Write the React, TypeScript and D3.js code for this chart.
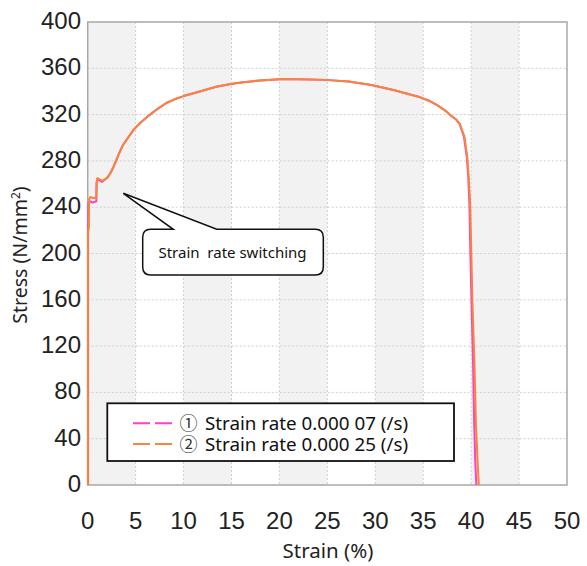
import React from "react";
import * as d3 from "d3";

const xTicks = [0, 5, 10, 15, 20, 25, 30, 35, 40, 45, 50];
const yTicks = [0, 40, 80, 120, 160, 200, 240, 280, 320, 360, 400];
const bandStarts = [0, 10, 20, 30, 40];

// Series 1: strain rate 0.000 07 (/s) (pink)
const strain1 = [0.04, 0.04, 0.06, 0.1, 0.3, 0.5, 0.9, 0.92, 1.0, 1.5, 1.8, 2.1, 2.4, 2.7, 3.0, 3.3, 3.7, 4.2, 4.8, 5.5, 6.5, 7.3, 8.2, 9.0, 10, 11.7, 13.4, 15, 16.2, 18, 20, 22, 24.8, 27.2, 29.6, 32, 34.5, 35.6, 36.5, 37.3, 37.9, 38.4, 38.8, 39.25, 39.55, 39.7, 39.82, 39.92, 40.05, 40.2, 40.32, 40.45, 40.55];
const stress1 = [0, 218, 238, 244, 245, 244, 245, 261, 264, 262, 264, 266, 270, 275, 281, 287, 294, 300, 307, 313, 320, 325, 330, 333, 336, 340, 344, 346.5, 348, 349.5, 350.5, 350.5, 350, 348.5, 345.5, 341, 335.5, 332, 328, 323.5, 319, 316, 312, 301, 283, 266, 243, 200, 154, 105, 53, 16, 0];

// Series 2: strain rate 0.000 25 (/s) (orange)
const strain2 = [0.02, 0.02, 0.12, 0.15, 0.3, 0.5, 0.9, 0.95, 1.0, 1.5, 1.8, 2.1, 2.4, 2.7, 3.0, 3.3, 3.7, 4.2, 4.8, 5.5, 6.5, 7.3, 8.2, 9.0, 10, 11.7, 13.4, 15, 16.2, 18, 20, 22, 24.8, 27.2, 29.6, 32, 34.5, 35.6, 36.5, 37.3, 37.9, 38.4, 38.8, 39.3, 39.6, 39.75, 39.9, 40.02, 40.15, 40.35, 40.5, 40.7, 40.8];
const stress2 = [0, 218, 222, 247, 249, 248, 248, 262, 265, 263, 264, 266, 270, 275, 281, 287, 294, 300, 307, 313, 320, 325, 330, 333, 336, 340, 344, 346.6, 348, 349.5, 350.5, 350.5, 350, 348.5, 345.6, 341, 335.5, 332, 328, 323.5, 319, 316, 312, 301, 283, 266, 243, 200, 154, 105, 53, 16, 0];

const legendLabels = ["Strain rate 0.000 07 (/s)", "Strain rate 0.000 25 (/s)"];
const legendMarks = ["①", "②"];
const seriesColors = ["#ff3fc8", "#f5863a"];
const calloutText = "Strain  rate switching";

export default function App() {
  const W = 587, H = 566;
  const left = 87.7, right = 567, top = 22, bottom = 485;
  const x = d3.scaleLinear().domain([0, 50]).range([left, right]);
  const y = d3.scaleLinear().domain([0, 400]).range([bottom, top]);
  const line = d3.line<[number, number]>().x(d => x(d[0])).y(d => y(d[1]));
  const s1 = strain1.map((v, i) => [v, stress1[i]] as [number, number]);
  const s2 = strain2.map((v, i) => [v, stress2[i]] as [number, number]);
  const tickFont = "'Liberation Sans', Arial, sans-serif";
  const labelFont = "'Noto Sans', 'Open Sans', sans-serif";

  // callout geometry
  const bx0 = 142.7, by0 = 229.3, bx1 = 323.3, by1 = 275, r = 8;
  const tipX = 123.3, tipY = 193.3, baseA = 173.3, baseB = 216.7;
  const calloutPath = `M${bx0 + r},${by0} L${baseA},${by0} L${tipX},${tipY} L${baseB},${by0} L${bx1 - r},${by0} Q${bx1},${by0} ${bx1},${by0 + r} L${bx1},${by1 - r} Q${bx1},${by1} ${bx1 - r},${by1} L${bx0 + r},${by1} Q${bx0},${by1} ${bx0},${by1 - r} L${bx0},${by0 + r} Q${bx0},${by0} ${bx0 + r},${by0} Z`;

  const ly0 = 423.3, lstep = 20.7;

  return (
    <svg width={W} height={H} style={{ position: "absolute", left: 0, top: 0, background: "#fff" }}>
      <rect x={left} y={top} width={right - left} height={bottom - top} fill="#fff" />
      {bandStarts.map(b => (
        <rect key={b} x={x(b)} y={top} width={x(b + 5) - x(b)} height={bottom - top} fill="#f2f2f2" />
      ))}
      {yTicks.slice(1, -1).map(t => (
        <line key={"gy" + t} x1={left} x2={right} y1={y(t)} y2={y(t)} stroke="#cfcfcf" strokeWidth={1} strokeDasharray="2,2" />
      ))}
      {xTicks.slice(1, -1).map(t => (
        <line key={"gx" + t} x1={x(t)} x2={x(t)} y1={top} y2={bottom} stroke="#cfcfcf" strokeWidth={1} strokeDasharray="2,2" />
      ))}
      <rect x={left} y={top} width={right - left} height={bottom - top} fill="none" stroke="#a8a8a8" strokeWidth={1.5} />
      <path d={line(s1) || ""} fill="none" stroke={seriesColors[0]} strokeWidth={2} strokeLinejoin="round" />
      <path d={line(s2) || ""} fill="none" stroke={seriesColors[1]} strokeWidth={2} strokeLinejoin="round" />
      {yTicks.map(t => (
        <text key={"yl" + t} x={81} y={y(t) + 7} textAnchor="end" fontFamily={tickFont} fontSize={24} fill="#222">{t}</text>
      ))}
      {xTicks.map(t => (
        <text key={"xl" + t} x={x(t)} y={528.5} textAnchor="middle" fontFamily={tickFont} fontSize={24} fill="#222">{t}</text>
      ))}
      <text x={328} y={558} textAnchor="middle" fontFamily={labelFont} fontSize={20.5} fill="#222">Strain (%)</text>
      <text transform="translate(27,255) rotate(-90)" textAnchor="middle" fontFamily={labelFont} fontSize={19.5} fill="#222">
        Stress (N/mm<tspan dy={-7} fontSize={12}>2</tspan><tspan dy={7}>)</tspan>
      </text>
      <path d={calloutPath} fill="#fff" stroke="#111" strokeWidth={1.5} />
      <text x={232.5} y={257.5} textAnchor="middle" fontFamily={labelFont} fontSize={15} fill="#111" style={{ whiteSpace: "pre" }}>{calloutText}</text>
      <rect x={107.3} y={403.3} width={346.7} height={57.7} fill="#fff" stroke="#111" strokeWidth={1.8} />
      {legendLabels.map((lab, i) => (
        <line key={"ll" + i} x1={133} x2={174} y1={ly0 + i * lstep} y2={ly0 + i * lstep} stroke={seriesColors[i]} strokeWidth={2} strokeDasharray="17,5" />
      ))}
      <text fontFamily="'Noto Sans CJK JP', 'DejaVu Sans', sans-serif" fontSize={18} fill="#333">
        {legendMarks.map((m, i) => (
          <tspan key={"m" + i} x={179.5} y={ly0 + i * lstep + 6.5}>{m}</tspan>
        ))}
      </text>
      <text fontFamily={labelFont} fontSize={18.8} fill="#111">
        {legendLabels.map((lab, i) => (
          <tspan key={"t" + i} x={205} y={ly0 + i * lstep + 6.5}>{lab}</tspan>
        ))}
      </text>
    </svg>
  );
}
